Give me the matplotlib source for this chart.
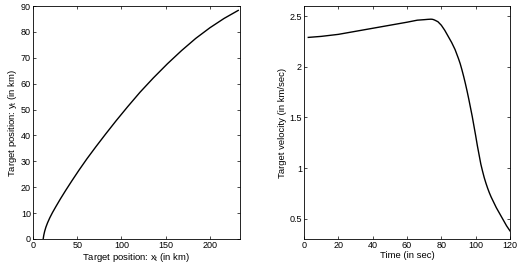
import numpy as np
import matplotlib
matplotlib.use('Agg')
import matplotlib.pyplot as plt

plt.rcParams['font.family'] = ['Liberation Sans', 'DejaVu Sans']
plt.rcParams['mathtext.default'] = 'regular'

# left panel: target trajectory (km)
pos_x = [11.5, 12.2, 13.2, 14.6, 16.5, 19, 22, 26, 31, 37, 44, 52, 61, 71,
         82, 94, 107, 121, 136, 152, 168, 184, 200, 216, 232]
pos_y = [0.0, 1.5, 3.0, 4.6, 6.3, 8.2, 10.2, 12.6, 15.5, 18.8, 22.5, 26.6,
         31.0, 35.6, 40.5, 45.7, 51.1, 56.7, 62.2, 67.7, 72.8, 77.5, 81.6,
         85.2, 88.3]

# right panel: target velocity vs time
time_s = [2.5, 10, 20, 30, 40, 50, 60, 66, 70, 72, 74, 75, 76, 78, 80, 82,
          84, 86, 88, 90, 91, 92, 93, 94, 95, 96, 97, 98, 99, 100, 101, 102,
          103, 104, 105, 106, 107, 108, 109, 110, 112, 114, 116, 118, 120]
vel = [2.29, 2.30, 2.32, 2.35, 2.38, 2.41, 2.44, 2.46, 2.465, 2.468, 2.47,
       2.468, 2.462, 2.445, 2.41, 2.36, 2.30, 2.24, 2.17, 2.08, 2.03, 1.97,
       1.905, 1.835, 1.76, 1.68, 1.595, 1.51, 1.415, 1.32, 1.22, 1.13, 1.04,
       0.97, 0.905, 0.85, 0.80, 0.755, 0.715, 0.68, 0.61, 0.55, 0.49, 0.43,
       0.38]

tfs = 6.5
lfs = 6.8

fig = plt.figure(figsize=(5.2, 2.65), dpi=100)
ax1 = fig.add_axes([33/520, 26/265, 207/520, 233/265])
ax2 = fig.add_axes([304/520, 26/265, 206/520, 233/265])

ax1.plot(pos_x, pos_y, color='black', lw=1.0)
ax1.set_xlim(0, 234)
ax1.set_ylim(0, 90)
ax1.set_xticks(np.arange(0, 201, 50))
ax1.set_yticks(np.arange(0, 91, 10))
ax1.set_xlabel('Target position: x$_t$ (in km)', fontsize=lfs, labelpad=0.5)
ax1.set_ylabel('Target position: y$_t$ (in km)', fontsize=lfs, labelpad=1.5)

ax2.plot(time_s, vel, color='black', lw=1.0)
ax2.set_xlim(0, 120)
ax2.set_ylim(0.3, 2.6)
ax2.set_xticks(np.arange(0, 121, 20))
ax2.set_yticks([0.5, 1, 1.5, 2, 2.5])
ax2.set_yticklabels(['0.5', '1', '1.5', '2', '2.5'])
ax2.set_xlabel('Time (in sec)', fontsize=lfs, labelpad=0.5)
ax2.set_ylabel('Target velocity (in km/sec)', fontsize=lfs, labelpad=1.5)

for ax in (ax1, ax2):
    ax.tick_params(direction='in', length=2.5, width=0.5, labelsize=tfs,
                   top=True, right=True, pad=1.5)
    for sp in ax.spines.values():
        sp.set_linewidth(0.6)

fig.savefig('out.png', dpi=100)
